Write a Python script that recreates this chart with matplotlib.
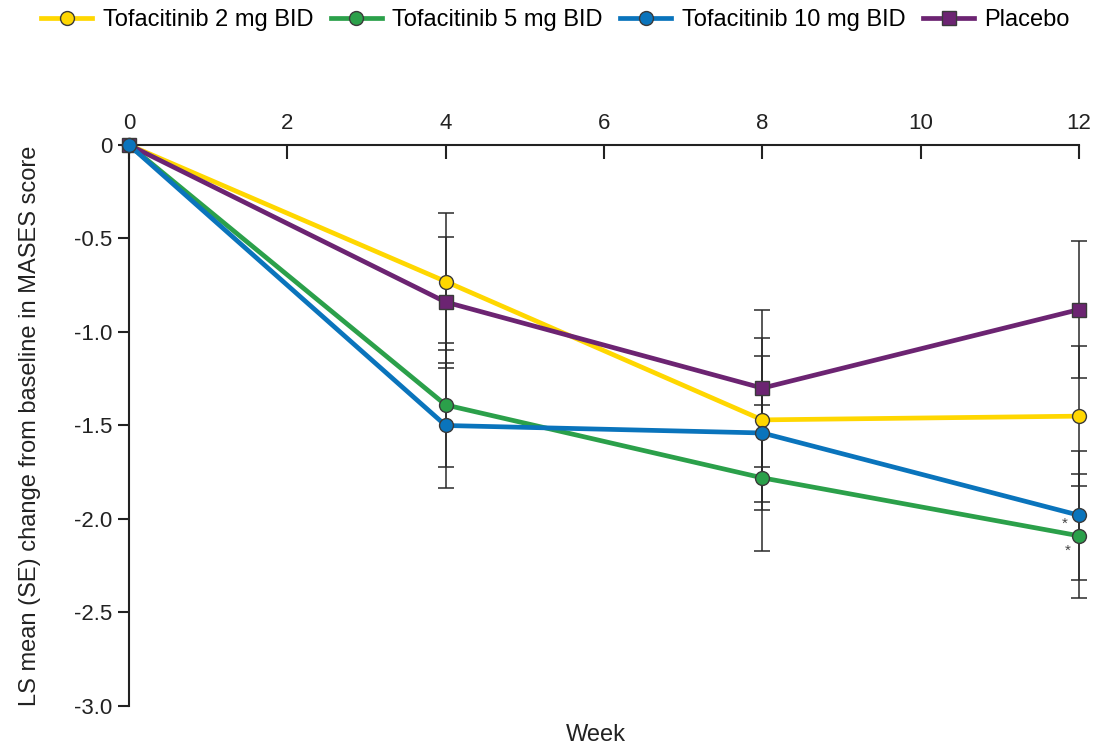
import matplotlib
matplotlib.use("Agg")
import matplotlib.pyplot as plt

plt.rcParams['font.family'] = ['Liberation Sans', 'DejaVu Sans']

weeks = [0, 4, 8, 12]
labels = ["Tofacitinib 2 mg BID", "Tofacitinib 5 mg BID", "Tofacitinib 10 mg BID", "Placebo"]
mean_2mg = [0, -0.73, -1.47, -1.45]
mean_5mg = [0, -1.39, -1.78, -2.09]
mean_10mg = [0, -1.50, -1.54, -1.98]
mean_pbo = [0, -0.84, -1.30, -0.88]
se_2mg = [0, 0.365, 0.44, 0.375]
se_5mg = [0, 0.33, 0.39, 0.33]
se_10mg = [0, 0.335, 0.41, 0.345]
se_pbo = [0, 0.35, 0.42, 0.365]
colors = ["#FFD700", "#2BA04A", "#0A74BC", "#6C2472"]
markers = ["o", "o", "o", "s"]
zorders = [3, 4, 6, 5]

fig = plt.figure(figsize=(10.98, 7.47), dpi=100)
ax = fig.add_axes([0.1175, 0.0549, 0.8652, 0.751])

means = [mean_2mg, mean_5mg, mean_10mg, mean_pbo]
ses = [se_2mg, se_5mg, se_10mg, se_pbo]
handles = []
for m, s, c, mk, lab, z in zip(means, ses, colors, markers, labels, zorders):
    ax.errorbar(weeks[1:], m[1:], yerr=s[1:], fmt='none', ecolor='#2a2a2a',
                elinewidth=1.1, capsize=6, capthick=1.1, zorder=2, clip_on=False)
    h, = ax.plot(weeks, m, color=c, lw=3.4, marker=mk, markersize=10,
                 markerfacecolor=c, markeredgecolor='#3a3a3a', markeredgewidth=1.0,
                 label=lab, zorder=z, clip_on=False)
    handles.append(h)

# significance markers at week 12
ax.annotate("*", (weeks[3], mean_10mg[3]), xytext=(-10, -6), textcoords='offset points',
            fontsize=11, color='#444444', ha='center', va='center', zorder=8)
ax.annotate("*", (weeks[3], mean_5mg[3]), xytext=(-8, -11), textcoords='offset points',
            fontsize=11, color='#444444', ha='center', va='center', zorder=8)

ax.set_xlim(0, 12)
ax.set_ylim(-3.0, 0)
ax.xaxis.tick_top()
ax.set_xticks([0, 2, 4, 6, 8, 10, 12])
ax.set_yticks([0, -0.5, -1.0, -1.5, -2.0, -2.5, -3.0])
ax.set_yticklabels(["0", "-0.5", "-1.0", "-1.5", "-2.0", "-2.5", "-3.0"])
ax.tick_params(axis='x', direction='in', length=10, width=1.5, labelsize=16, pad=8, colors='#222222')
ax.tick_params(axis='y', direction='out', length=8, width=1.5, labelsize=16, pad=4, colors='#222222')
for side in ['right', 'bottom']:
    ax.spines[side].set_visible(False)
for side in ['top', 'left']:
    ax.spines[side].set_linewidth(1.5)
    ax.spines[side].set_color('#222222')

ax.set_ylabel("LS mean (SE) change from baseline in MASES score", fontsize=17, color='#222222', labelpad=24)
fig.text(0.543, 0.008, "Week", fontsize=17, color='#222222', ha='center')

fig.legend(handles=handles, loc='upper center', bbox_to_anchor=(0.506, 1.016), ncol=4,
           frameon=False, fontsize=17, handlelength=2.15, handletextpad=0.45, columnspacing=0.75)

fig.savefig("out.png", dpi=100)
